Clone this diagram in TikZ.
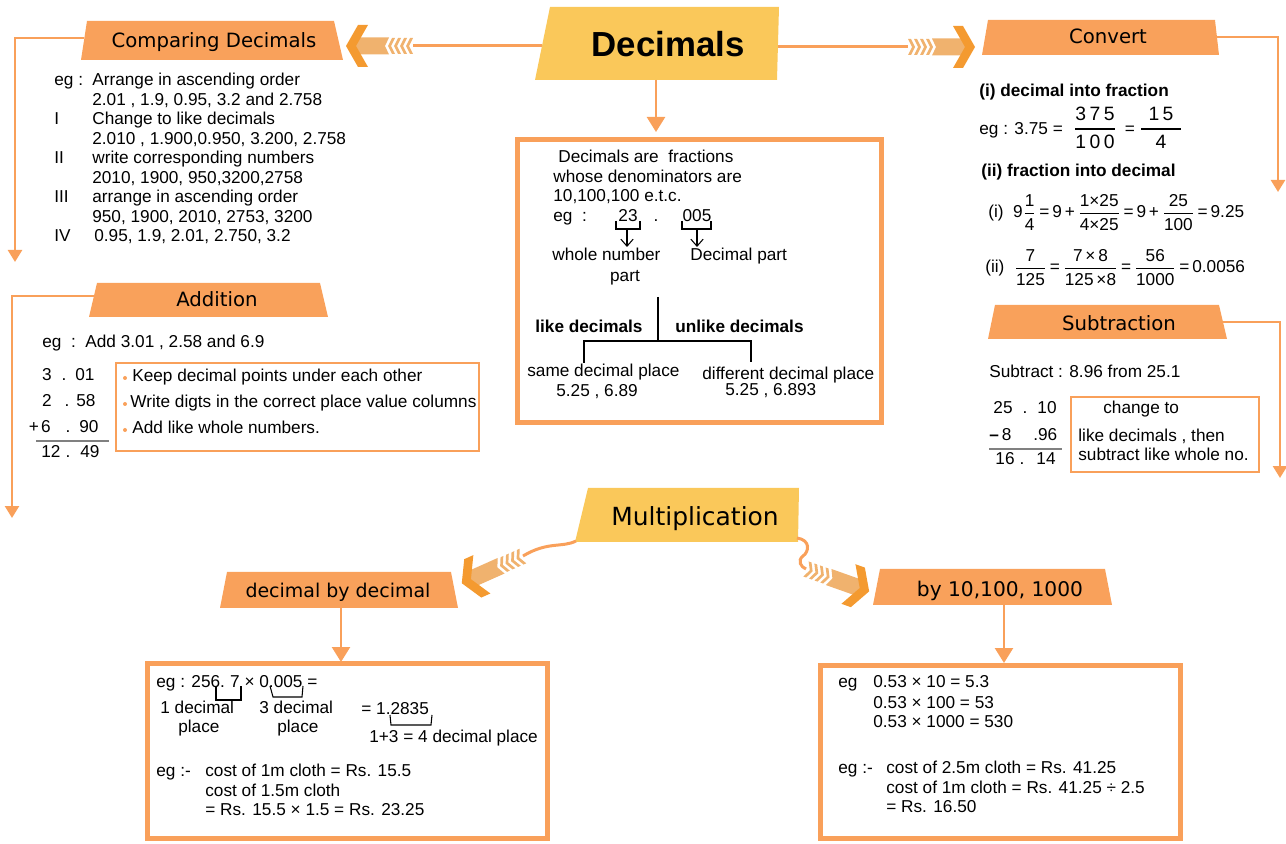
\documentclass[tikz,border=0pt]{standalone}
\usepackage{amsmath}
\usepackage{fontspec}
\setmainfont{Liberation Sans}
\newfontfamily\hfont{DejaVu Sans}
\usetikzlibrary{arrows.meta}
\definecolor{hdr}{RGB}{249,161,91}
\definecolor{ttl}{RGB}{250,200,90}
\definecolor{lnk}{RGB}{249,160,90}
\definecolor{band}{RGB}{240,178,110}
\definecolor{chev}{RGB}{244,154,48}
\newcommand{\fr}[2]{$\dfrac{\text{#1}}{\text{#2}}$}
\newcommand{\bfr}[2]{$\genfrac{}{}{1pt}{0}{\text{#1}}{\text{#2}}$}
\tikzset{
	txt/.style={anchor=base west},
	ctr/.style={anchor=base},
	hd/.style={anchor=base,font=\hfont\fontsize{11.2}{13}\selectfont},
	conn/.style={draw=lnk,line width=0.05cm},
	tip/.style={-{Triangle[width=0.28cm,length=0.24cm]}},
	bigtip/.style={-{Triangle[width=0.36cm,length=0.3cm]}},
	frame/.style={draw=lnk,line width=0.1cm},
	thinframe/.style={draw=lnk,line width=0.05cm},
	brk/.style={line width=0.6pt},
	fatarr/.pic={
		\foreach \s in {0,6,12,18}
			\fill[band] (\s,-8) -- ++(3,0) -- ++(4,8) -- ++(-4,8) -- ++(-3,0) -- ++(4,-8) -- cycle;
		\fill[band] (24,-8.5) -- (57,-8.5) -- (57,8.5) -- (24,8.5) -- (28,0) -- cycle;
		\fill[chev] (45,-21) -- (55,-21) -- (67,0) -- (55,21) -- (45,21) -- (57,0) -- cycle;
	}
}

\begin{document}
\begin{tikzpicture}[x=0.02cm,y=-0.02cm,inner sep=0pt,font=\fontsize{9.8}{11}\selectfont]
	\useasboundingbox (0,0) rectangle (1286,844);
	% title
	\fill[ttl] (550,7) -- (779,7) -- (777,80) -- (535,80) -- cycle;
	\node[font=\fontsize{19.8}{22}\selectfont\bfseries] (dec) at (668,44) {Decimals};
	\coordinate (decL) at (542,46);
	\coordinate (decR) at (778,47);
	\coordinate (decB) at (656,80);
	\coordinate (cmpT) at (413,46);
	\coordinate (cnvT) at (908,47);
	\coordinate (boxT) at (656,132);
	\draw[draw=lnk,line width=0.06cm] (decL) -- (cmpT);
	\draw[draw=lnk,line width=0.06cm] (decR) -- (cnvT);
	\pic[rotate=180] at (cmpT) {fatarr};
	\pic at (cnvT) {fatarr};
	\draw[conn,bigtip] (decB) -- (boxT);

	% comparing decimals
	\fill[hdr] (87,21) -- (334,21) -- (343,60) -- (81,60) -- cycle;
	\node[hd] (hcmp) at (214,48) {Comparing Decimals};
	\coordinate (cmpL) at (84,38);
	\coordinate (cmpE) at (15,262);
	\draw[conn,tip] (cmpL) -| (cmpE);
	\node[txt] (c0) at (54,86) {eg :};
	\node[txt] (c1) at (92,86) {Arrange in ascending order};
	\node[txt] (c2) at (92,105.5) {2.01 , 1.9, 0.95, 3.2 and 2.758};
	\node[txt] (c3) at (54,125) {I};
	\node[txt] (c4) at (92,125) {Change to like decimals};
	\node[txt] (c5) at (92,144.5) {2.010 , 1.900,0.950, 3.200, 2.758};
	\node[txt] (c6) at (54,164) {II};
	\node[txt] (c7) at (92,164) {write corresponding numbers};
	\node[txt] (c8) at (92,183.5) {2010, 1900, 950,3200,2758};
	\node[txt] (c9) at (54,203) {III};
	\node[txt] (c10) at (92,203) {arrange in ascending order};
	\node[txt] (c11) at (92,222.5) {950, 1900, 2010, 2753, 3200};
	\node[txt] (c12) at (54,242) {IV};
	\node[txt] (c13) at (94,242) {0.95, 1.9, 2.01, 2.750, 3.2};

	% central box
	\draw[frame] (517,140) rectangle (881,423);
	\node[txt] (d1) at (558,163) {Decimals are\ \ fractions};
	\node[txt] (d2) at (553,183) {whose denominators are};
	\node[txt] (d3) at (553,202) {10,100,100 e.t.c.};
	\node[txt] (d4) at (553,222) {eg\ \ :};
	\node[ctr] (d5) at (628,222) {23};
	\node[ctr] (d6) at (656,222) {.};
	\node[ctr] (d7) at (697,222) {005};
	\draw[brk] (616,221) -- (616,229) -- (640,229) -- (640,221);
	\draw[brk] (682,221) -- (682,229) -- (711,229) -- (711,221);
	\node[txt] (d8) at (552,261) {whole number};
	\node[ctr] (d9) at (625,282) {part};
	\node[txt] (d10) at (690,261) {Decimal part};
	\draw[brk,-{Straight Barb[length=4pt,width=7pt]}] (627,229) -- (627,247);
	\draw[brk,-{Straight Barb[length=4pt,width=7pt]}] (697,229) -- (697,247);
	\draw[brk] (658,297) -- (658,341);
	\node[txt,font=\fontsize{9.8}{11}\selectfont\bfseries] (d11) at (535,333) {like decimals};
	\node[txt,font=\fontsize{9.8}{11}\selectfont\bfseries] (d12) at (675,333) {unlike decimals};
	\draw[brk] (584,363) -- (584,341) -- (751,341) -- (751,362);
	\node[txt] (d13) at (527,377) {same decimal place};
	\node[txt] (d14) at (556,397) {5.25 , 6.89};
	\node[txt] (d15) at (702,380) {different decimal place};
	\node[txt] (d16) at (725,396) {5.25 , 6.893};

	% addition
	\fill[hdr] (97,283) -- (320,283) -- (328,317) -- (89,317) -- cycle;
	\node[hd] (hadd) at (217,307) {Addition};
	\coordinate (addL) at (94,296);
	\coordinate (addE) at (12,518);
	\draw[conn,tip] (addL) -| (addE);
	\node[txt] (a0) at (42,348) {eg\ \ :\ \ Add 3.01 , 2.58 and 6.9};
	\node[ctr] (a1) at (47,381) {3};
	\node[ctr] (a2) at (64,381) {.};
	\node[ctr] (a3) at (85,381) {01};
	\node[ctr] (a4) at (47,407) {2};
	\node[ctr] (a5) at (67,407) {.};
	\node[ctr] (a6) at (86,407) {58};
	\node[ctr] (a7) at (34,433) {+};
	\node[ctr] (a8) at (46,433) {6};
	\node[ctr] (a9) at (68,433) {.};
	\node[ctr] (a10) at (89,433) {90};
	\draw[gray,line width=0.8pt] (36,441) -- (109,441);
	\node[ctr] (a11) at (51,458) {12};
	\node[ctr] (a12) at (68,458) {.};
	\node[ctr] (a13) at (90,458) {49};
	\draw[thinframe] (116,363) rectangle (479,451);
	\foreach \y in {382,408,434}
		\fill[hdr] (125,\y-4) circle (2);
	\node[txt] (a14) at (132,382) {Keep decimal points under each other};
	\node[txt] (a15) at (130,408) {Write digts in the correct place value columns};
	\node[txt] (a16) at (132,434) {Add like whole numbers.};

	% convert
	\fill[hdr] (988,20) -- (1215,20) -- (1219,55) -- (982,55) -- cycle;
	\node[hd] (hcnv) at (1108,44) {Convert};
	\coordinate (cnvR) at (1217,37);
	\coordinate (cnvE) at (1278,192);
	\draw[conn,tip] (cnvR) -| (cnvE);
	\node[txt,font=\fontsize{9.8}{11}\selectfont\bfseries] (v1) at (979,97) {(i) decimal into fraction};
	\node[txt] (v2) at (979,135) {eg : 3.75};
	\node[ctr] (v3) at (1058,135) {=};
	\node[font=\fontsize{11}{13}\selectfont] (v4) at (1095,128) {\bfr{3\kern2pt7\kern2pt5}{1\kern2pt0\kern2pt0}};
	\node[ctr] (v5) at (1130,135) {=};
	\node[font=\fontsize{11}{13}\selectfont] (v6) at (1161,128) {\bfr{\hspace{4pt}1\kern2pt5\hspace{4pt}}{4}};
	\node[txt,font=\fontsize{9.8}{11}\selectfont\bfseries] (v7) at (981,177) {(ii) fraction into decimal};
	\node[txt] (v8) at (988,218) {(i)\ \ 9\fr{1}{4}\,=\,9\,+\,\fr{1×25}{4×25}\,=\,9\,+\,\fr{25}{100}\,=\,9.25};
	\node[txt] (v9) at (985,273) {(ii)\ \ \fr{7}{125}\,=\,\fr{7\,×\,8}{125\,×8}\,=\,\fr{56}{1000}\,=\,0.0056};

	% subtraction
	\fill[hdr] (995,305) -- (1219,305) -- (1227,339) -- (988,339) -- cycle;
	\node[hd] (hsub) at (1119,331) {Subtraction};
	\coordinate (subR) at (1223,322);
	\coordinate (subE) at (1280,478);
	\draw[conn,tip] (subR) -| (subE);
	\node[txt] (s0) at (989,378) {Subtract : 8.96 from 25.1};
	\node[ctr] (s1) at (1003,414) {25};
	\node[ctr] (s2) at (1025,414) {.};
	\node[ctr] (s3) at (1047,414) {10};
	\node[txt] (s4) at (989,441) {\textbf{–}\,8};
	\node[txt] (s5) at (1033,441) {.96};
	\draw[gray,line width=0.8pt] (989,449) -- (1062,449);
	\node[ctr] (s6) at (1005,465) {16};
	\node[ctr] (s7) at (1022,465) {.};
	\node[ctr] (s8) at (1046,465) {14};
	\draw[thinframe] (1071,397) rectangle (1259,472);
	\node[txt] (s9) at (1103,414) {change to};
	\node[txt] (s10) at (1078,442) {like decimals , then};
	\node[txt] (s11) at (1078,461) {subtract like whole no.};

	% multiplication
	\fill[ttl] (588,488) -- (799,488) -- (798,542) -- (575,542) -- cycle;
	\node[hd,font=\hfont\fontsize{14.2}{16}\selectfont] (hmul) at (695,526) {Multiplication};
	\coordinate (mulL) at (576,541);
	\coordinate (mulR) at (797,538);
	\coordinate (dbdT) at (523,556);
	\coordinate (tenT) at (806,569);
	\draw[draw=lnk,line width=0.06cm] (mulL) .. controls (562,548) and (548,541) .. (dbdT);
	\draw[draw=lnk,line width=0.06cm] (mulR) .. controls (811,540) and (809,552) .. (803,556) .. controls (797,561) and (801,567) .. (tenT);
	\pic[rotate=204] at (dbdT) {fatarr};
	\pic[rotate=-19.5] at (tenT) {fatarr};

	% decimal by decimal
	\fill[hdr] (227,572) -- (451,572) -- (458,608) -- (220,608) -- cycle;
	\node[hd,font=\hfont\fontsize{10.8}{13}\selectfont] (hdbd) at (338,598) {decimal by decimal};
	\coordinate (dbdB) at (341,608);
	\coordinate (dbdE) at (341,662);
	\draw[conn,bigtip] (dbdB) -- (dbdE);
	\draw[frame] (147,664) rectangle (547,838);
	\node[txt] (m1) at (156,687) {eg : 256.\hspace{3pt}7 × 0.005 =};
	\draw[brk] (216,686) -- (216,700) -- (241,700) -- (241,686);
	\draw[brk] (270,686) -- (273,697) -- (302,697) -- (303,686);
	\node[txt] (m2) at (160,714) {1 decimal};
	\node[txt] (m3) at (178,733) {place};
	\node[txt] (m4) at (259,714) {3 decimal};
	\node[txt] (m5) at (277,733) {place};
	\node[txt] (m6) at (361,715) {= 1.2835};
	\draw[brk] (390,715) -- (391,725) -- (431,725) -- (432,715);
	\node[txt] (m7) at (369,743) {1+3 = 4 decimal place};
	\node[txt] (m8) at (156,777) {eg :-};
	\node[txt] (m9) at (205,777) {cost of 1m cloth = Rs. 15.5};
	\node[txt] (m10) at (205,796) {cost of 1.5m cloth};
	\node[txt] (m11) at (205,815) {= Rs. 15.5 × 1.5 = Rs. 23.25};

	% by 10,100,1000
	\fill[hdr] (880,569) -- (1105,569) -- (1112,605) -- (873,605) -- cycle;
	\node[hd,font=\hfont\fontsize{11.5}{13}\selectfont] (hten) at (1000,597) {by 10,100, 1000};
	\coordinate (tenB) at (1004,605);
	\coordinate (tenE) at (1004,663);
	\draw[conn,bigtip] (tenB) -- (tenE);
	\draw[frame] (820,666) rectangle (1180,838);
	\node[txt] (t1) at (838,688) {eg};
	\node[txt] (t2) at (873,688) {0.53 × 10 = 5.3};
	\node[txt] (t3) at (873,708) {0.53 × 100 = 53};
	\node[txt] (t4) at (873,727) {0.53 × 1000 = 530};
	\node[txt] (t5) at (838,773) {eg :-};
	\node[txt] (t6) at (886,773) {cost of 2.5m cloth = Rs. 41.25};
	\node[txt] (t7) at (886,793) {cost of 1m cloth = Rs. 41.25 ÷ 2.5};
	\node[txt] (t8) at (886,812) {= Rs. 16.50};
\end{tikzpicture}
\end{document}
